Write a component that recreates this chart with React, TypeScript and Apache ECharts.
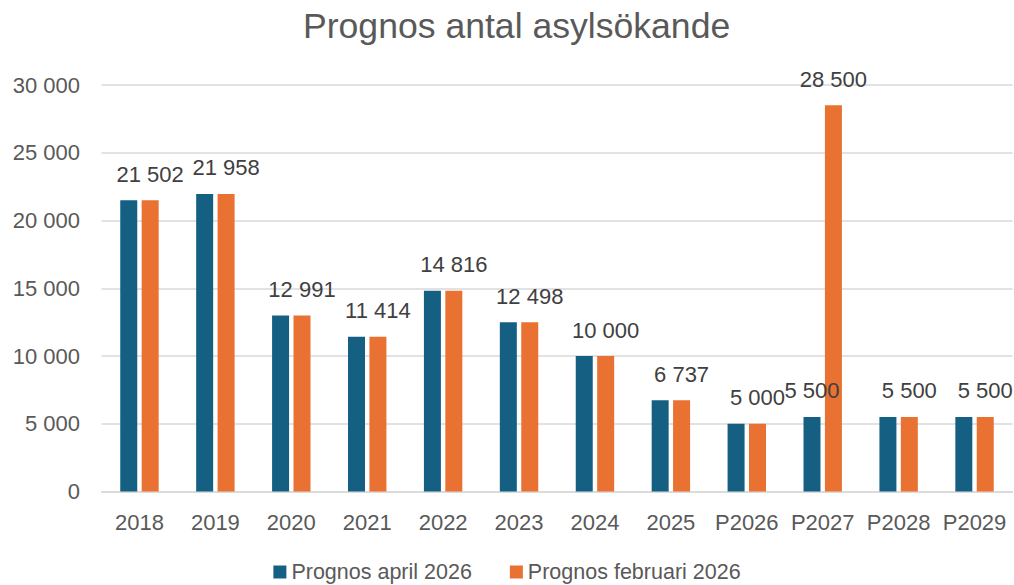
import React, { useEffect, useRef } from "react";
import * as echarts from "echarts";

const categories = ["2018", "2019", "2020", "2021", "2022", "2023", "2024", "2025", "P2026", "P2027", "P2028", "P2029"];
const aprilValues = [21502, 21958, 12991, 11414, 14816, 12498, 10000, 6737, 5000, 5500, 5500, 5500];
const februaryValues = [21502, 21958, 12991, 11414, 14816, 12498, 10000, 6737, 5000, 28500, 5500, 5500];
const aprilLabeledCategories = ["P2027"];
const seriesNames = ["Prognos april 2026", "Prognos februari 2026"];
const titleText = "Prognos antal asylsökande";

const fmt = (v: number) => String(v).replace(/\B(?=(\d{3})+(?!\d))/g, " ");

const FONT = "'Liberation Sans', Arial, sans-serif";

export default function App() {
  const ref = useRef<HTMLDivElement>(null);
  useEffect(() => {
    if (!ref.current) return;
    const chart = echarts.init(ref.current, undefined, { renderer: "svg" });
    const labelStyle = {
      show: true,
      position: "top",
      distance: 15,
      color: "#404040",
      fontSize: 22,
      fontFamily: FONT,
      formatter: (p: any) => fmt(p.value),
    };
    chart.setOption({
      animation: false,
      backgroundColor: "#ffffff",
      textStyle: { fontFamily: FONT },
      title: {
        text: titleText,
        left: 303,
        top: 8,
        padding: 0,
        textStyle: { fontSize: 35.6, fontWeight: "normal", color: "#595959", fontFamily: FONT },
      },
      legend: {
        data: seriesNames,
        top: 556,
        left: "center",
        icon: "rect",
        itemWidth: 13,
        itemHeight: 13,
        itemGap: 38,
        textStyle: { fontSize: 21.5, color: "#595959", fontFamily: FONT },
      },
      grid: { left: 101.5, right: 1.5, top: 85, bottom: 93.5, containLabel: false },
      xAxis: {
        type: "category",
        data: categories,
        axisLine: { show: true, lineStyle: { color: "#d9d9d9", width: 1.5 } },
        axisTick: { show: false },
        axisLabel: { color: "#595959", fontSize: 22, margin: 19.5, fontFamily: FONT, interval: 0 },
      },
      yAxis: {
        type: "value",
        min: 0,
        max: 30000,
        interval: 5000,
        axisLine: { show: false },
        axisTick: { show: false },
        splitLine: { lineStyle: { color: "#d9d9d9", width: 1.5 } },
        axisLabel: {
          color: "#595959",
          fontSize: 22,
          margin: 21.5,
          fontFamily: FONT,
          formatter: (v: number) => fmt(v),
        },
      },
      series: [
        {
          name: seriesNames[0],
          type: "bar",
          barWidth: 17,
          barGap: "26%",
          itemStyle: { color: "#156082" },
          data: aprilValues.map((v, i) =>
            aprilLabeledCategories.includes(categories[i]) ? { value: v, label: labelStyle } : v
          ),
        },
        {
          name: seriesNames[1],
          type: "bar",
          barWidth: 17,
          barGap: "26%",
          itemStyle: { color: "#E97132" },
          label: labelStyle,
          data: februaryValues,
        },
      ],
    });
    return () => chart.dispose();
  }, []);
  return (
    <div
      ref={ref}
      style={{ position: "fixed", left: 0, top: 0, width: 1014, height: 585, background: "#fff" }}
    />
  );
}
